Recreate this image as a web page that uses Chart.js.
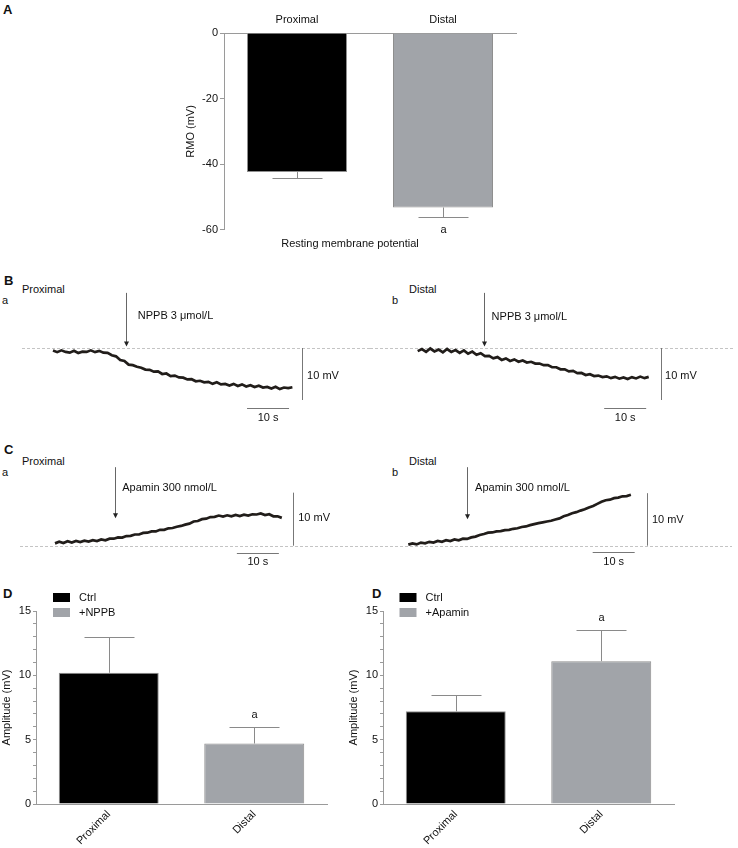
<!DOCTYPE html>
<html><head><meta charset="utf-8">
<script src="https://cdn.jsdelivr.net/npm/chart.js@4.4.1/dist/chart.umd.min.js"></script>
<style>
html,body{margin:0;padding:0;background:#fff;}
body{width:738px;height:848px;position:relative;overflow:hidden;font-family:"Liberation Sans",Arial,sans-serif;color:#111;}
canvas{position:absolute;}
.t{position:absolute;font-size:11px;line-height:13px;white-space:nowrap;}
.L{position:absolute;font-size:13px;font-weight:bold;line-height:16px;}
</style></head><body>
<div class="L" style="left:3px;top:2px">A</div>
<div class="L" style="left:4px;top:273px">B</div>
<div class="t" style="left:2px;top:294px">a</div>
<div class="t" style="left:22px;top:283px">Proximal</div>
<div class="t" style="left:392px;top:294px">b</div>
<div class="t" style="left:409px;top:283px">Distal</div>
<div class="L" style="left:4px;top:442px">C</div>
<div class="t" style="left:2px;top:466px">a</div>
<div class="t" style="left:22px;top:455px">Proximal</div>
<div class="t" style="left:392px;top:466px">b</div>
<div class="t" style="left:409px;top:455px">Distal</div>
<div class="L" style="left:3px;top:586px">D</div>
<div class="L" style="left:372px;top:586px">D</div>

<canvas id="cA" width="340" height="253" style="left:184px;top:0px"></canvas>
<canvas id="cBa" width="370" height="150" style="left:0px;top:282px"></canvas>
<canvas id="cBb" width="368" height="150" style="left:370px;top:282px"></canvas>
<canvas id="cCa" width="370" height="125" style="left:0px;top:455px"></canvas>
<canvas id="cCb" width="368" height="125" style="left:370px;top:455px"></canvas>
<canvas id="cD1" width="340" height="262" style="left:0px;top:586px"></canvas>
<canvas id="cD2" width="340" height="262" style="left:347px;top:586px"></canvas>

<script>
// ---------------- DATA ----------------
const rmoCategories = ['Proximal', 'Distal'];
const rmoMeans = [-42.4, -53.2];
const rmoSEM = [1.8, 2.9];
const rmoMarks = ['', 'a'];
const rmoTicks = [0, -20, -40, -60];

const ampCategories = ['Proximal', 'Distal'];
const nppbLegend = ['Ctrl', '+NPPB'];
const nppbMeans = [10.2, 4.7];
const nppbSEM = [2.8, 1.3];
const nppbMarks = ['', 'a'];

const apaminLegend = ['Ctrl', '+Apamin'];
const apaminMeans = [7.2, 11.1];
const apaminSEM = [1.3, 2.4];
const apaminMarks = ['', 'a'];

// membrane potential traces (mV relative to baseline), one sample per second
const traceNppbProximal = [-0.5,-0.8,-0.45,-0.75,-0.9,-0.55,-0.95,-0.7,-0.75,-0.45,-0.8,-0.55,-0.9,-0.95,-1.4,-1.6,-2.3,-2.5,-3.2,-3.3,-3.6,-3.8,-4.15,-4.2,-4.55,-4.5,-5.0,-4.9,-5.4,-5.3,-5.65,-5.7,-6.05,-6.0,-6.4,-6.3,-6.6,-6.5,-6.9,-6.6,-7.0,-6.9,-7.2,-6.9,-7.3,-7.0,-7.4,-7.15,-7.5,-7.25,-7.6,-7.5,-7.8,-7.45,-7.9,-7.6,-7.7,-7.55];
const traceNppbDistal = [-0.6,-0.2,-0.75,-0.1,-0.65,-0.3,-0.85,-0.2,-0.75,-0.4,-0.95,-0.45,-1.1,-0.7,-1.3,-1.0,-1.55,-1.5,-2.0,-1.75,-2.3,-2.0,-2.5,-2.2,-2.65,-2.4,-2.8,-2.65,-3.0,-3.0,-3.3,-3.3,-3.7,-3.7,-4.1,-4.1,-4.5,-4.4,-4.85,-4.8,-5.2,-5.05,-5.4,-5.3,-5.6,-5.45,-5.8,-5.55,-5.9,-5.65,-5.95,-5.6,-5.85,-5.5,-5.8,-5.55];
const traceApaminProximal = [0.45,0.75,0.5,0.85,0.6,0.9,0.7,0.95,0.8,1.05,0.9,1.2,1.05,1.35,1.35,1.6,1.55,1.85,1.9,2.15,2.15,2.45,2.5,2.75,2.75,3.05,3.05,3.35,3.4,3.65,3.8,4.05,4.25,4.65,4.75,5.1,5.2,5.5,5.55,5.8,5.6,5.85,5.65,5.9,5.7,5.95,5.8,6.05,6.0,6.2,5.9,6.05,5.65,5.65,5.35];
const traceApaminDistal = [0.2,0.45,0.25,0.6,0.45,0.75,0.6,0.9,0.75,1.05,0.9,1.2,1.05,1.35,1.3,1.6,1.75,2.05,2.25,2.5,2.55,2.75,2.8,3.0,3.05,3.25,3.35,3.6,3.7,3.95,4.15,4.35,4.5,4.65,4.8,5.05,5.25,5.65,5.9,6.25,6.45,6.75,7.0,7.35,7.65,8.05,8.45,8.75,8.85,9.15,9.25,9.5,9.55,9.8];

// ---------------- STYLE ----------------
const F = '"Liberation Sans", Arial, sans-serif';
const AXIS = '#9a9a9a';
const BAR_COLORS = ['#000000', '#a1a4a9'];
Chart.defaults.font.family = F;
Chart.defaults.font.size = 11;
Chart.defaults.color = '#111';
const PX_S = 4.2, PX_MV = 5.2;

const errorBarPlugin = {
  id: 'errorBars',
  afterDatasetsDraw(chart) {
    const ctx = chart.ctx, ys = chart.scales.y;
    chart.data.datasets.forEach((ds, di) => {
      const meta = chart.getDatasetMeta(di);
      meta.data.forEach((bar, i) => {
        const v = ds.data[i], e = ds.errors[i];
        const end = v < 0 ? v - e : v + e;
        const x = Math.round(bar.x) + 0.5;
        const y0 = ys.getPixelForValue(v);
        const y1 = Math.round(ys.getPixelForValue(end)) + 0.5;
        ctx.save();
        ctx.strokeStyle = '#8a8a8a'; ctx.lineWidth = 1;
        ctx.beginPath();
        ctx.moveTo(x, y0); ctx.lineTo(x, y1);
        ctx.moveTo(x - 25, y1); ctx.lineTo(x + 25, y1);
        ctx.stroke();
        if (ds.marks && ds.marks[i]) {
          ctx.fillStyle = '#111';
          ctx.font = '11px ' + F;
          ctx.textAlign = 'center'; ctx.textBaseline = 'middle';
          ctx.fillText(ds.marks[i], x, v < 0 ? y1 + 12 : y1 - 13);
        }
        ctx.restore();
      });
    });
  }
};

const legendPlugin = {
  id: 'boxLegend',
  afterDraw(chart, args, opts) {
    const ctx = chart.ctx;
    ctx.save();
    opts.labels.forEach((lab, i) => {
      const y = opts.y + i * opts.step;
      ctx.fillStyle = opts.colors[i];
      ctx.fillRect(opts.x, y, 17, 9);
      ctx.fillStyle = '#111';
      ctx.font = '11px ' + F;
      ctx.textAlign = 'left'; ctx.textBaseline = 'middle';
      ctx.fillText(lab, opts.x + 26, y + 4.5);
    });
    ctx.restore();
  }
};

// ---------------- PANEL A ----------------
new Chart(document.getElementById('cA'), {
  type: 'bar',
  data: { labels: rmoCategories, datasets: [{
    data: rmoMeans, errors: rmoSEM, marks: rmoMarks,
    backgroundColor: BAR_COLORS, borderColor: '#8f8f8f', borderWidth: 1,
    barPercentage: 0.685, categoryPercentage: 1 }] },
  options: {
    responsive: false, animation: false, events: [],
    layout: { padding: { left: 0, right: 8, top: 0, bottom: 2 } },
    plugins: {
      legend: { display: false }, tooltip: { enabled: false },
      title: { display: true, position: 'bottom', text: 'Resting membrane potential',
        color: '#111', font: { size: 11, weight: 'normal', family: F }, padding: { top: 8, bottom: 0 } }
    },
    scales: {
      x: { position: 'top', grid: { display: true, drawOnChartArea: false, drawTicks: false },
        border: { color: AXIS }, ticks: { padding: 6 }, afterFit(s) { s.height = 33; } },
      y: { min: -60, max: 0, afterBuildTicks(s) { s.ticks = rmoTicks.map(v => ({ value: v })); },
        ticks: { padding: 2 },
        grid: { drawOnChartArea: false, drawTicks: true, tickLength: 4, color: AXIS },
        border: { color: AXIS },
        title: { display: true, text: 'RMO (mV)', padding: 0 },
        afterFit(s) { s.width = 40; } }
    }
  },
  plugins: [errorBarPlugin]
});

// ---------------- TRACES ----------------
function tracePlugin(a) {
  return {
    id: 'traceAnn',
    beforeDatasetsDraw(chart) {
      const { ctx, scales: { y } } = chart;
      ctx.save();
      ctx.strokeStyle = '#c4c4c4'; ctx.lineWidth = 1; ctx.setLineDash([3, 2]);
      const y0 = Math.round(y.getPixelForValue(0)) + 0.5;
      ctx.beginPath(); ctx.moveTo(a.dash[0], y0); ctx.lineTo(a.dash[1], y0); ctx.stroke();
      ctx.restore();
    },
    afterDatasetsDraw(chart) {
      const { ctx, scales: { x, y } } = chart;
      const X = v => x.getPixelForValue(v), Y = v => y.getPixelForValue(v);
      ctx.save();
      ctx.lineWidth = 1; ctx.strokeStyle = '#666'; ctx.fillStyle = '#222';
      const ax = Math.round(X(a.arrowT)) + 0.5, tip = Y(a.arrowTip);
      ctx.beginPath(); ctx.moveTo(ax, Y(a.arrowTop)); ctx.lineTo(ax, tip - 4); ctx.stroke();
      ctx.beginPath(); ctx.moveTo(ax - 2.5, tip - 5); ctx.lineTo(ax + 2.5, tip - 5); ctx.lineTo(ax, tip); ctx.closePath(); ctx.fill();
      ctx.font = '11px ' + F; ctx.fillStyle = '#111';
      ctx.textBaseline = 'middle'; ctx.textAlign = 'left';
      ctx.fillText(a.drug, X(a.drugT), Y(a.drugV));
      ctx.strokeStyle = '#777';
      const vx = Math.round(X(a.vbarT)) + 0.5;
      ctx.beginPath(); ctx.moveTo(vx, Y(a.vbar[0])); ctx.lineTo(vx, Y(a.vbar[1])); ctx.stroke();
      const hy = Math.round(Y(a.hbarV)) + 0.5;
      ctx.beginPath(); ctx.moveTo(X(a.hbar[0]), hy); ctx.lineTo(X(a.hbar[1]), hy); ctx.stroke();
      ctx.fillText('10 mV', X(a.mvT), Y(a.mvV));
      ctx.textAlign = 'center';
      ctx.fillText('10 s', X((a.hbar[0] + a.hbar[1]) / 2), Y(a.sV));
      ctx.restore();
    }
  };
}

function traceChart(id, values, a) {
  const c = document.getElementById(id);
  const W = c.width, H = c.height;
  new Chart(c, {
    type: 'line',
    data: { datasets: [{ data: values.map((v, i) => ({ x: i, y: v })),
      borderColor: '#211d1a', borderWidth: 2.7, pointRadius: 0, tension: 0, fill: false }] },
    options: {
      responsive: false, animation: false, events: [],
      layout: { padding: 0 },
      plugins: { legend: { display: false }, tooltip: { enabled: false } },
      scales: {
        x: { type: 'linear', display: false, min: -a.ox / PX_S, max: (W - a.ox) / PX_S },
        y: { type: 'linear', display: false, min: -(H - a.oy) / PX_MV, max: a.oy / PX_MV }
      }
    },
    plugins: [tracePlugin(a)]
  });
}

traceChart('cBa', traceNppbProximal, { ox: 53, oy: 66, dash: [22, 370], arrowT: 17.4, arrowTop: 10.6, arrowTip: 0.3,
  drug: 'NPPB 3 μmol/L', drugT: 20.2, drugV: 6.2, vbarT: 59.3, vbar: [0, -10], mvT: 60.5, mvV: -5.4,
  hbar: [46.2, 56.2], hbarV: -11.5, sV: -13.4 });
traceChart('cBb', traceNppbDistal, { ox: 47.7, oy: 66, dash: [0, 365], arrowT: 15.9, arrowTop: 10.6, arrowTip: 0.3,
  drug: 'NPPB 3 μmol/L', drugT: 17.6, drugV: 6.0, vbarT: 57.9, vbar: [0, -10], mvT: 58.9, mvV: -5.4,
  hbar: [44.4, 54.4], hbarV: -11.5, sV: -13.4 });
traceChart('cCa', traceApaminProximal, { ox: 55, oy: 90.7, dash: [20, 370], arrowT: 14.3, arrowTop: 15.1, arrowTip: 5.3,
  drug: 'Apamin 300 nmol/L', drugT: 16.0, drugV: 11.1, vbarT: 56.6, vbar: [0, 10.2], mvT: 57.9, mvV: 5.3,
  hbar: [43.3, 53.3], hbarV: -1.35, sV: -3.1 });
traceChart('cCb', traceApaminDistal, { ox: 38.3, oy: 90.7, dash: [0, 362], arrowT: 14.0, arrowTop: 15.1, arrowTip: 5.1,
  drug: 'Apamin 300 nmol/L', drugT: 15.9, drugV: 11.1, vbarT: 56.9, vbar: [0, 10.1], mvT: 58.0, mvV: 4.9,
  hbar: [43.9, 53.9], hbarV: -1.3, sV: -3.1 });

// ---------------- PANEL D ----------------
function ampChart(id, means, sem, marks, legendLabels, legendX) {
  new Chart(document.getElementById(id), {
    type: 'bar',
    data: { labels: ampCategories, datasets: [{
      data: means, errors: sem, marks: marks,
      backgroundColor: BAR_COLORS, borderColor: '#8f8f8f', borderWidth: 1,
      barPercentage: 0.687, categoryPercentage: 1 }] },
    options: {
      responsive: false, animation: false, events: [],
      layout: { padding: { left: 0, right: 13, top: 25, bottom: 0 } },
      plugins: {
        legend: { display: false }, tooltip: { enabled: false },
        boxLegend: { labels: legendLabels, colors: BAR_COLORS, x: legendX, y: 7, step: 15 }
      },
      scales: {
        x: { grid: { display: true, drawOnChartArea: false, drawTicks: false }, border: { color: AXIS },
          ticks: { minRotation: 45, maxRotation: 45, padding: 4 }, afterFit(s) { s.height = 44; } },
        y: { min: 0, max: 15,
          ticks: { stepSize: 1, autoSkip: false, padding: 2, callback: v => (v % 5 === 0 ? v : '') },
          grid: { drawOnChartArea: false, drawTicks: true, tickLength: 3, color: AXIS },
          border: { color: AXIS },
          title: { display: true, text: 'Amplitude (mV)', padding: 0 },
          afterFit(s) { s.width = 36; } }
      }
    },
    plugins: [errorBarPlugin, legendPlugin]
  });
}
ampChart('cD1', nppbMeans, nppbSEM, nppbMarks, nppbLegend, 53);
ampChart('cD2', apaminMeans, apaminSEM, apaminMarks, apaminLegend, 52.5);
</script>
</body></html>
